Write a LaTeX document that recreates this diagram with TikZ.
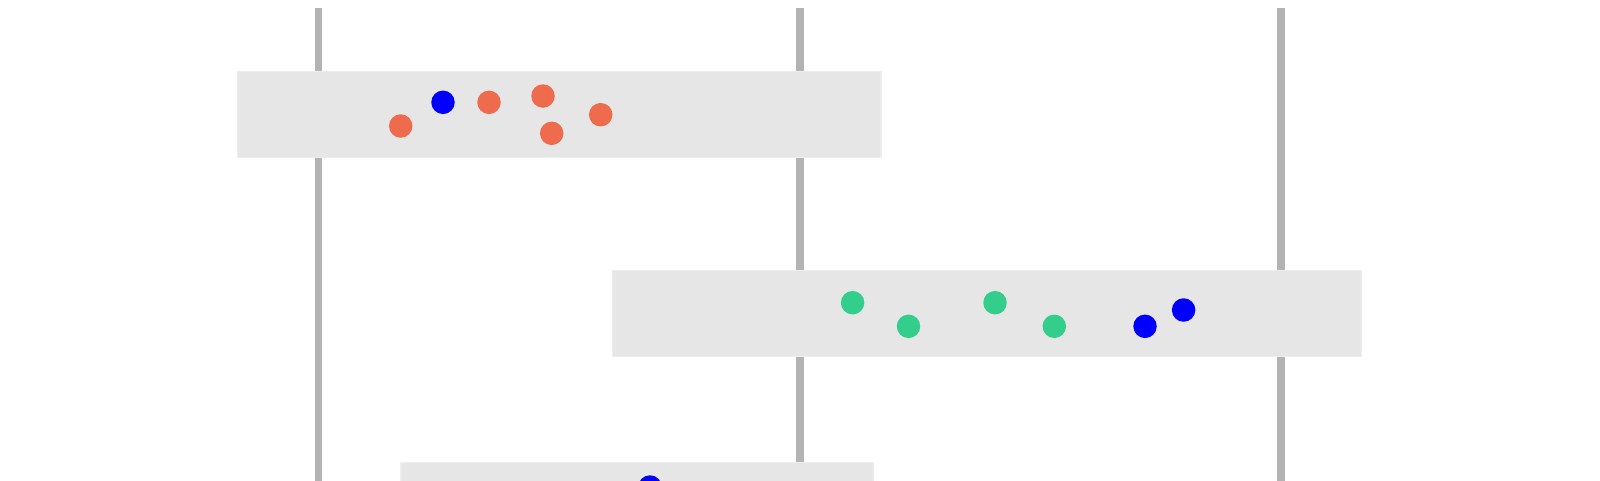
\documentclass[tikz,border=0pt]{standalone}
\definecolor{railgray}{HTML}{B3B3B3}
\definecolor{bandfill}{HTML}{E6E6E6}
\definecolor{bandedge}{HTML}{EDEDED}
\definecolor{dotorange}{HTML}{EE6C4D}
\definecolor{dotgreen}{HTML}{34CE8C}
\definecolor{dotblue}{HTML}{0000FF}
\begin{document}
\begin{tikzpicture}[x=1pt,y=-1pt,
  rail/.style={draw=railgray,line width=7.5pt},
  band/.style={fill=bandfill,draw=bandedge,line width=1.2pt},
  dot/.style={circle,inner sep=0pt,minimum size=23.5pt,draw=none},
  odot/.style={dot,fill=dotorange},
  gdot/.style={dot,fill=dotgreen},
  bdot/.style={dot,fill=dotblue}]
\useasboundingbox (0,0) rectangle (1600,480);
\fill[white] (0,0) rectangle (1600,480);
\begin{scope}
\clip (0,0) rectangle (1600,480);
% rails
\coordinate (r1t) at (318.7,7.7); \coordinate (r1b) at (318.7,500);
\coordinate (r2t) at (800,7.7);   \coordinate (r2b) at (800,500);
\coordinate (r3t) at (1281,7.7);  \coordinate (r3b) at (1281,500);
\draw[rail] (r1t) -- (r1b);
\draw[rail] (r2t) -- (r2b);
\draw[rail] (r3t) -- (r3b);
% bands
\draw[band] (237.7,71.7) rectangle (881,157.5);
\draw[band] (612.6,270.7) rectangle (1361.7,356.7);
\draw[band] (401,462.3) rectangle (873.3,520);
% dots band 1
\node[odot] (a1) at (400.7,126) {};
\node[bdot] (a2) at (443,102.3) {};
\node[odot] (a3) at (489,102.3) {};
\node[odot] (a4) at (543,96) {};
\node[odot] (a5) at (551.7,133.3) {};
\node[odot] (a6) at (600.7,114.7) {};
% dots band 2
\node[gdot] (b1) at (852.6,302.7) {};
\node[gdot] (b2) at (908.5,326.3) {};
\node[gdot] (b3) at (995,302.7) {};
\node[gdot] (b4) at (1054.3,326.3) {};
\node[bdot] (b5) at (1145,326.3) {};
\node[bdot] (b6) at (1183.6,310) {};
% dot band 3
\node[bdot] (c1) at (650,487) {};
\end{scope}
\end{tikzpicture}
\end{document}
